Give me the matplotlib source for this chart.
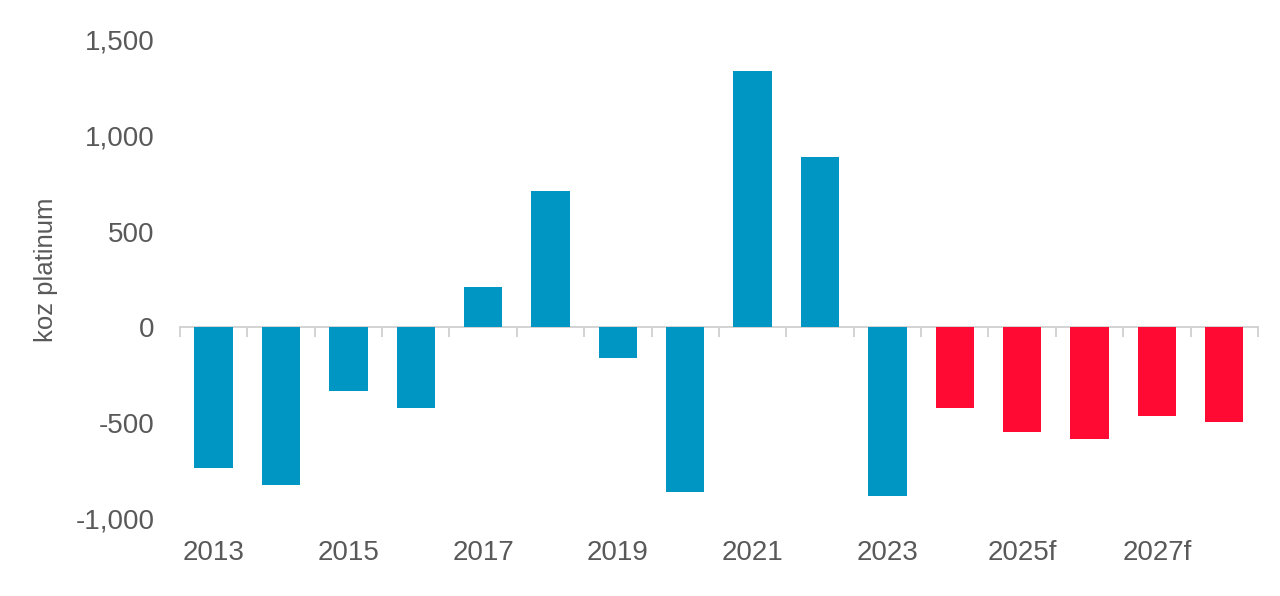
import matplotlib
matplotlib.use("Agg")
import matplotlib.pyplot as plt
import matplotlib.transforms as mtransforms
from matplotlib.ticker import FuncFormatter

years = ["2013", "2014", "2015", "2016", "2017", "2018", "2019", "2020",
         "2021", "2022", "2023", "2024f", "2025f", "2026f", "2027f", "2028f"]
balance = [-735, -820, -330, -420, 210, 710, -160, -860,
           1340, 890, -880, -420, -545, -580, -465, -495]
is_forecast = [False] * 11 + [True] * 5
shown_labels = ["2013", "2015", "2017", "2019", "2021", "2023", "2025f", "2027f"]

blue = "#0096c3"
red = "#ff0a33"
text_col = "#595959"

plt.rcParams['font.family'] = ['Liberation Sans', 'DejaVu Sans']

fig = plt.figure(figsize=(12.8, 5.96), dpi=100)
ax = fig.add_axes([0.1406, 0.1292, 0.8422, 0.8037])

x = list(range(len(years)))
colors = [red if f else blue for f in is_forecast]
ax.bar(x, balance, width=0.57, color=colors, zorder=2)

ax.set_xlim(-0.5, len(years) - 0.5)
ax.set_ylim(-1000, 1500)
ax.set_yticks([-1000, -500, 0, 500, 1000, 1500])
ax.yaxis.set_major_formatter(FuncFormatter(lambda v, p: f"{int(v):,}"))
ax.tick_params(axis='y', length=0, labelsize=20, labelcolor=text_col, pad=18.5)

for s in ['top', 'right', 'left']:
    ax.spines[s].set_visible(False)
ax.spines['bottom'].set_position(('data', 0))
ax.spines['bottom'].set_color('#d0d0d0')
ax.spines['bottom'].set_linewidth(1.3)
ax.spines['bottom'].set_zorder(1)

ax.set_xticks([i - 0.5 for i in range(len(years) + 1)])
ax.set_xticklabels([])
ax.tick_params(axis='x', direction='out', length=7, width=1.3, color='#d0d0d0')

trans = mtransforms.blended_transform_factory(ax.transData, ax.transAxes)
for i, yl in enumerate(years):
    if yl in shown_labels:
        ax.text(i, -0.072, yl, transform=trans, ha='center', va='center',
                fontsize=20, color=text_col)

ax.set_ylabel("koz platinum", fontsize=18.5, color=text_col)
ax.yaxis.set_label_coords(-0.113, 0.52)

fig.savefig("out.png", dpi=100, facecolor="white")
